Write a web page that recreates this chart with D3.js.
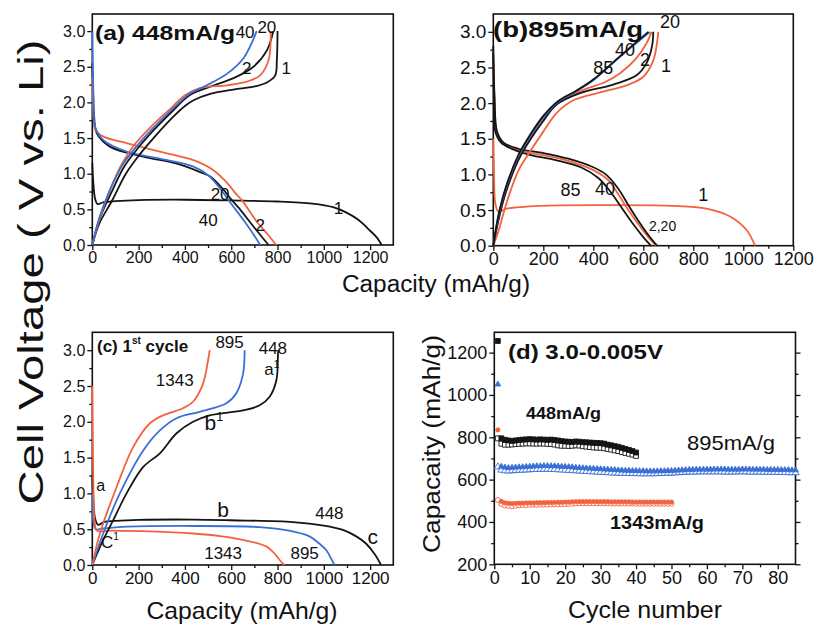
<!DOCTYPE html>
<html lang="en">
<head>
<meta charset="utf-8">
<title>Cell voltage profiles and cycling</title>
<script src="https://d3js.org/d3.v7.min.js"></script>
<style>
  body { margin: 0; background: #fff; }
  text { font-family: "Liberation Sans", Arial, sans-serif; fill: #111; }
  .frame { fill: none; stroke: #111; stroke-width: 1.6; }
  .axis path { display: none; }
  .axis line { stroke: #111; stroke-width: 1.3; }
  .axis text { font-family: "Liberation Sans", Arial, sans-serif; fill: #111; }
  .curve { fill: none; stroke-width: 1.8; }
</style>
</head>
<body>
<script>
// colours
var BLACK = "#151515", RED = "#f2623f", BLUE = "#3a6fd6";

// ---- panel (a) 448 mA/g : [capacity, voltage]
var aDis1  = [[0,1.15],[5,0.85],[12,0.65],[22,0.575],[50,0.6],[100,0.615],[200,0.63],[400,0.635],[600,0.625],[800,0.61],[950,0.58],[1040,0.53],[1100,0.45],[1150,0.35],[1200,0.2],[1230,0.1],[1250,0]];
var aDis2  = [[0,2.35],[3,2.0],[6,1.75],[12,1.62],[48,1.52],[148,1.43],[292,1.31],[437,1.19],[523,1.05],[580,0.88],[620,0.72],[646,0.63],[680,0.47],[710,0.33],[760,0.14],[794,0]];
var aDis20 = [[0,2.55],[3,2.2],[8,1.8],[19,1.57],[76,1.38],[220,1.24],[365,1.14],[460,1.03],[509,0.96],[560,0.8],[600,0.64],[638,0.5],[696,0.26],[761,0]];
var aDis40 = [[0,3.0],[2,2.6],[5,2.1],[12,1.66],[48,1.47],[148,1.31],[292,1.21],[437,1.1],[500,0.98],[550,0.8],[595,0.6],[653,0.35],[700,0.13],[725,0]];
var aCh1   = [[0,0],[30,0.3],[85,0.62],[145,1.0],[200,1.25],[270,1.52],[350,1.8],[400,1.95],[437,2.03],[509,2.12],[610,2.18],[696,2.22],[754,2.28],[790,2.38],[797,2.59],[800,3.0]];
var aCh2   = [[0,0],[30,0.35],[76,0.77],[130,1.15],[180,1.4],[260,1.68],[340,1.92],[400,2.1],[465,2.2],[581,2.24],[667,2.29],[725,2.38],[761,2.59],[771,3.0]];
var aCh20  = [[0,0],[32,0.37],[80,0.72],[138,1.1],[195,1.35],[265,1.61],[350,1.89],[420,2.1],[509,2.22],[610,2.34],[696,2.5],[754,2.73],[782,3.0]];
var aCh40  = [[0,0],[30,0.38],[76,0.77],[130,1.12],[190,1.38],[265,1.65],[350,1.92],[420,2.12],[494,2.24],[581,2.4],[653,2.62],[710,3.0]];

// ---- panel (b) 895 mA/g
var bDis1  = [[0,1.5],[3,1.0],[8,0.6],[20,0.48],[53,0.52],[187,0.56],[453,0.57],[720,0.56],[853,0.52],[947,0.41],[1013,0.22],[1047,0]];
var bDis2  = [[0,2.7],[5,2.1],[15,1.6],[40,1.45],[100,1.36],[200,1.3],[300,1.22],[400,1.1],[450,1.0],[500,0.8],[540,0.57],[580,0.35],[620,0.15],[655,0]];
var bDis20 = [[0,2.6],[5,2.0],[15,1.55],[45,1.42],[110,1.33],[200,1.27],[300,1.19],[400,1.06],[460,0.92],[500,0.72],[540,0.5],[580,0.3],[620,0.12],[650,0]];
var bDis85 = [[0,2.8],[3,2.0],[8,1.6],[30,1.45],[80,1.35],[150,1.27],[250,1.2],[350,1.1],[420,0.95],[470,0.75],[510,0.55],[560,0.3],[600,0.12],[630,0]];
var bCh1   = [[0,0],[20,0.2],[53,0.6],[100,1.05],[147,1.32],[200,1.6],[253,1.86],[320,2.04],[427,2.15],[533,2.25],[600,2.37],[640,2.6],[655,2.85],[660,3.0]];
var bCh2   = [[0,0],[20,0.35],[50,0.75],[100,1.2],[150,1.5],[200,1.75],[253,1.98],[347,2.14],[480,2.26],[573,2.39],[613,2.56],[635,2.8],[640,3.0]];
var bCh20  = [[0,0],[20,0.35],[50,0.75],[100,1.2],[150,1.52],[200,1.78],[260,2.0],[350,2.17],[450,2.3],[507,2.42],[570,2.62],[613,2.84],[633,3.0]];
var bCh40  = [[0,0],[20,0.4],[50,0.8],[100,1.25],[150,1.55],[200,1.8],[260,2.02],[330,2.16],[400,2.32],[507,2.65],[627,3.0]];
var bCh85  = [[0,0],[20,0.42],[50,0.82],[100,1.27],[150,1.57],[200,1.82],[260,2.03],[330,2.17],[400,2.33],[507,2.66],[620,3.0]];

// ---- panel (c) first cycle at three rates
var cDis448  = [[0,1.25],[5,0.9],[12,0.65],[25,0.56],[50,0.6],[100,0.615],[200,0.63],[435,0.635],[600,0.625],[866,0.6],[1000,0.55],[1082,0.49],[1140,0.4],[1182,0.3],[1220,0.15],[1247,0]];
var cDis895  = [[0,1.0],[5,0.6],[15,0.5],[47,0.51],[150,0.535],[435,0.545],[722,0.53],[850,0.48],[938,0.4],[980,0.3],[1010,0.21],[1030,0.1],[1046,0]];
var cDis1343 = [[0,2.5],[3,1.5],[6,0.9],[10,0.6],[20,0.48],[76,0.48],[250,0.47],[435,0.44],[560,0.4],[651,0.35],[751,0.26],[790,0.15],[809,0.07],[830,0]];
var cCh448   = [[0,0],[47,0.35],[91,0.63],[148,1.0],[220,1.37],[292,1.56],[364,1.84],[435,2.0],[507,2.09],[651,2.16],[723,2.23],[766,2.35],[795,2.58],[802,2.95],[803,3.0]];
var cCh895   = [[0,0],[47,0.44],[119,1.0],[220,1.6],[292,1.88],[364,2.05],[464,2.14],[579,2.26],[622,2.4],[651,2.67],[658,3.0]];
var cCh1343  = [[0,0],[33,0.44],[105,1.09],[177,1.65],[249,1.98],[306,2.09],[392,2.19],[435,2.28],[478,2.53],[500,2.86],[507,3.0]];

// ---- panel (d) capacity vs cycle number (mAh/g), discharge = filled, charge = open
var d448Dis  = [1255, 795, 788, 785, 783, 785, 787, 789, 790, 791, 790, 789, 790, 789, 788, 789, 787, 785, 782, 780, 779, 778, 780, 779, 777, 776, 775, 774, 773, 772, 770, 765, 762, 758, 755, 750, 745, 740, 735, 728];
var d448Cha  = [795, 770, 765, 765, 766, 768, 769, 770, 771, 771, 770, 770, 771, 770, 769, 768, 766, 762, 760, 760, 759, 760, 762, 761, 758, 756, 754, 752, 751, 750, 748, 745, 742, 738, 735, 730, 726, 722, 718, 712];
var d895Dis  = [1050, 662, 658, 656, 657, 658, 659, 660, 661, 662, 663, 664, 664, 665, 665, 664, 664, 663, 662, 661,
                660, 659, 657, 656, 655, 654, 653, 652, 651, 650, 649, 648, 647, 646, 645, 644, 643, 643, 642, 642,
                641, 641, 640, 640, 640, 640, 641, 641, 642, 642, 643, 644, 645, 646, 647, 647, 648, 648, 648, 648,
                648, 649, 649, 649, 649, 648, 648, 648, 648, 649, 649, 649, 648, 648, 648, 648, 647, 647, 647, 647,
                646, 646, 646, 645, 645];
var d895Cha  = [660, 645, 642, 641, 642, 643, 644, 645, 646, 647, 648, 648, 649, 649, 649, 648, 648, 647, 646, 645,
                644, 643, 642, 641, 640, 639, 638, 637, 636, 635, 634, 633, 632, 631, 631, 630, 630, 629, 629, 629,
                628, 628, 628, 628, 628, 629, 629, 630, 630, 631, 632, 633, 634, 635, 636, 636, 636, 637, 637, 637,
                637, 637, 637, 637, 636, 636, 636, 636, 637, 637, 637, 636, 636, 636, 636, 635, 635, 635, 635, 634,
                634, 634, 633, 633, 633];
var d1343Dis = [835, 497, 490, 488, 487, 488, 489, 489, 490, 490, 490, 491, 491, 491, 492, 492, 492, 493, 493, 494,
                494, 495, 496, 496, 496, 496, 496, 496, 496, 496, 496, 496, 495, 495, 495, 495, 495, 495, 494, 494,
                494, 494, 494, 494, 494, 494, 494, 494, 494, 494];
var d1343Cha = [504, 485, 478, 476, 474, 477, 479, 480, 480, 481, 481, 481, 482, 482, 482, 483, 483, 483, 484, 484,
                485, 486, 487, 488, 488, 488, 488, 488, 488, 488, 488, 488, 487, 487, 487, 487, 487, 487, 487, 486,
                486, 486, 486, 486, 486, 486, 486, 486, 486, 486];

// tick values
var vTicks = [0, 0.5, 1.0, 1.5, 2.0, 2.5, 3.0];
var vMinor = [0.25, 0.75, 1.25, 1.75, 2.25, 2.75];
var capTicks = [0, 200, 400, 600, 800, 1000, 1200];
var capMinor = [100, 300, 500, 700, 900, 1100];
var cycTicks = [0, 10, 20, 30, 40, 50, 60, 70, 80];
var cycMinor = [5, 15, 25, 35, 45, 55, 65, 75];
var qTicks = [200, 400, 600, 800, 1000, 1200];
var qMinor = [300, 500, 700, 900, 1100];

var svg = d3.select("body").append("svg").attr("width", 816).attr("height", 627);

function panel(o) {
  var x = d3.scaleLinear().domain(o.xd).range(o.xr);
  var y = d3.scaleLinear().domain(o.yd).range(o.yr);
  var g = svg.append("g");
  var ax = g.append("g").attr("class", "axis").attr("transform", "translate(0," + o.yr[0] + ")")
    .call(d3.axisBottom(x).tickValues(o.xt).tickSize(5).tickPadding(2).tickFormat(d3.format("d")));
  ax.selectAll("text").style("font-size", o.fx + "px");
  g.append("g").attr("class", "axis").attr("transform", "translate(0," + o.yr[0] + ")")
    .call(d3.axisBottom(x).tickValues(o.xm).tickSize(3).tickFormat(""));
  var ay = g.append("g").attr("class", "axis").attr("transform", "translate(" + o.xr[0] + ",0)")
    .call(d3.axisLeft(y).tickValues(o.yt).tickSize(5).tickPadding(2).tickFormat(o.yf));
  ay.selectAll("text").style("font-size", o.fy + "px");
  g.append("g").attr("class", "axis").attr("transform", "translate(" + o.xr[0] + ",0)")
    .call(d3.axisLeft(y).tickValues(o.ym).tickSize(3).tickFormat(""));
  if (o.right) {
    g.append("g").attr("class", "axis").attr("transform", "translate(" + o.xr[1] + ",0)")
      .call(d3.axisRight(y).tickValues(o.yt).tickSize(5).tickFormat(""));
    g.append("g").attr("class", "axis").attr("transform", "translate(" + o.xr[1] + ",0)")
      .call(d3.axisRight(y).tickValues(o.ym).tickSize(3).tickFormat(""));
  }
  g.append("rect").attr("class", "frame")
    .attr("x", o.xr[0]).attr("y", o.yr[1])
    .attr("width", o.xr[1] - o.xr[0]).attr("height", o.yr[0] - o.yr[1]);
  return { g: g, x: x, y: y };
}

function curves(p, list) {
  var line = d3.line().x(function (d) { return p.x(d[0]); }).y(function (d) { return p.y(d[1]); })
    .curve(d3.curveCatmullRom.alpha(0.5));
  list.forEach(function (c) {
    p.g.append("path").attr("class", "curve").attr("d", line(c[0])).attr("stroke", c[1]);
  });
}

function label(p, txt, xv, yv, size, weight, sup) {
  var t = p.g.append("text").attr("x", p.x(xv)).attr("y", p.y(yv))
    .attr("text-anchor", "middle").style("font-size", size + "px").style("font-weight", weight || "normal")
    .text(txt);
  if (sup) t.append("tspan").attr("dy", -size * 0.45).style("font-size", (size * 0.6) + "px").text(sup);
  return t;
}

var f1 = d3.format(".1f");

// ---------- (a)
var pa = panel({ xd: [0, 1300], xr: [92.3, 393.3], yd: [0, 3.24], yr: [245, 14],
  xt: capTicks, xm: capMinor, yt: vTicks, ym: vMinor, yf: f1, fx: 16, fy: 16 });
curves(pa, [[aDis1, BLACK], [aDis20, BLACK], [aDis2, RED], [aDis40, BLUE],
  [aCh1, BLACK], [aCh20, BLACK], [aCh2, RED], [aCh40, BLUE]]);
pa.g.append("text").attr("x", 95).attr("y", 40).style("font-size", "20px").style("font-weight", "bold")
  .attr("textLength", 140).attr("lengthAdjust", "spacingAndGlyphs").text("(a) 448mA/g");
label(pa, "40", 660, 2.9, 17);
label(pa, "20", 754, 2.98, 17);
label(pa, "2", 667, 2.4, 17);
label(pa, "1", 838, 2.4, 17);
label(pa, "20", 552, 0.63, 17);
label(pa, "40", 501, 0.27, 17);
label(pa, "2", 725, 0.2, 17);
label(pa, "1", 1063, 0.44, 17);

// ---------- (b)
var pb = panel({ xd: [0, 1200], xr: [493.3, 793.3], yd: [0, 3.25], yr: [245.7, 14],
  xt: capTicks, xm: capMinor, yt: vTicks, ym: vMinor, yf: f1, fx: 18, fy: 19 });
curves(pb, [[bDis1, RED], [bDis20, RED], [bDis2, BLACK], [bDis85, BLACK],
  [bCh1, RED], [bCh20, RED], [bCh2, BLACK], [bCh40, BLUE], [bCh85, BLACK]]);
pb.g.append("text").attr("x", 493).attr("y", 37).style("font-size", "22px").style("font-weight", "bold")
  .attr("textLength", 150).attr("lengthAdjust", "spacingAndGlyphs").text("(b)895mA/g");
label(pb, "20", 707, 3.06, 18);
label(pb, "40", 527, 2.66, 18);
label(pb, "2", 607, 2.52, 18);
label(pb, "1", 691, 2.43, 18);
label(pb, "85", 440, 2.41, 18);
label(pb, "85", 309, 0.7, 18);
label(pb, "40", 447, 0.71, 18);
label(pb, "1", 840, 0.63, 18);
label(pb, "2,20", 677, 0.21, 14);

// ---------- (c)
var pc = panel({ xd: [0, 1300], xr: [92.3, 393.3], yd: [0, 3.25], yr: [565, 332.3],
  xt: capTicks, xm: capMinor, yt: vTicks, ym: vMinor, yf: f1, fx: 17, fy: 16 });
curves(pc, [[cDis448, BLACK], [cDis895, BLUE], [cDis1343, RED],
  [cCh448, BLACK], [cCh895, BLUE], [cCh1343, RED]]);
var tc = pc.g.append("text").attr("x", 97).attr("y", 352).style("font-size", "17px").style("font-weight", "bold").text("(c) 1");
tc.append("tspan").attr("dy", -8).style("font-size", "10px").text("st");
tc.append("tspan").attr("dy", 8).text(" cycle");
label(pc, "1343", 356, 2.5, 17);
label(pc, "895", 593, 3.03, 17);
label(pc, "448", 780, 2.95, 17);
label(pc, "a", 775, 2.65, 17, "normal", "1");
label(pc, "b", 525, 1.88, 21, "normal", "1");
label(pc, "a", 36, 1.03, 16);
label(pc, "b", 565, 0.67, 21);
label(pc, "448", 1024, 0.64, 17);
label(pc, "c", 1211, 0.3, 21);
label(pc, "C", 76, 0.24, 17, "normal", "1");
label(pc, "1343", 565, 0.08, 17);
label(pc, "895", 917, 0.08, 17);

// ---------- (d)
var pd = panel({ xd: [0, 85], xr: [494.3, 795.5], yd: [200, 1296], yr: [564.3, 332.3],
  xt: cycTicks, xm: cycMinor, yt: qTicks, ym: qMinor, yf: d3.format("d"), fx: 18, fy: 18, right: true });

function markers(p, vals, shape, col, filled, size) {
  var sym = d3.symbol().type(shape).size(size);
  p.g.append("g").selectAll("path").data(vals).join("path")
    .attr("d", sym)
    .attr("transform", function (d, i) { return "translate(" + p.x(i + 1) + "," + p.y(d) + ")"; })
    .attr("fill", filled ? col : "#fff").attr("stroke", col).attr("stroke-width", 0.9);
}
markers(pd, d895Cha, d3.symbolTriangle, BLUE, false, 22);
markers(pd, d895Dis, d3.symbolTriangle, BLUE, true, 14);
markers(pd, d448Cha, d3.symbolSquare, BLACK, false, 24);
markers(pd, d448Dis, d3.symbolSquare, BLACK, true, 24);
markers(pd, d1343Cha, d3.symbolCircle, RED, false, 20);
markers(pd, d1343Dis, d3.symbolCircle, RED, true, 14);

pd.g.append("text").attr("x", 508).attr("y", 359).style("font-size", "21px").style("font-weight", "bold")
  .attr("textLength", 155).attr("lengthAdjust", "spacingAndGlyphs").text("(d) 3.0-0.005V");
pd.g.append("text").attr("x", 526).attr("y", 419).style("font-size", "16px").style("font-weight", "bold")
  .attr("textLength", 75).attr("lengthAdjust", "spacingAndGlyphs").text("448mA/g");
pd.g.append("text").attr("x", 687).attr("y", 450).style("font-size", "21px")
  .attr("textLength", 88).attr("lengthAdjust", "spacingAndGlyphs").text("895mA/g");
pd.g.append("text").attr("x", 610).attr("y", 529).style("font-size", "19px").style("font-weight", "bold")
  .attr("textLength", 94).attr("lengthAdjust", "spacingAndGlyphs").text("1343mA/g");

// ---------- shared axis titles
svg.append("text").attr("transform", "translate(43,272) rotate(-90)").attr("text-anchor", "middle")
  .style("font-size", "35px").attr("textLength", 465).attr("lengthAdjust", "spacingAndGlyphs")
  .text("Cell Voltage ( V vs. Li)");
svg.append("text").attr("x", 436).attr("y", 292).attr("text-anchor", "middle").style("font-size", "23px")
  .attr("textLength", 188).attr("lengthAdjust", "spacingAndGlyphs").text("Capacity (mAh/g)");
svg.append("text").attr("x", 242).attr("y", 619).attr("text-anchor", "middle").style("font-size", "24px")
  .attr("textLength", 191).attr("lengthAdjust", "spacingAndGlyphs").text("Capacity (mAh/g)");
svg.append("text").attr("x", 645).attr("y", 618).attr("text-anchor", "middle").style("font-size", "24px")
  .attr("textLength", 154).attr("lengthAdjust", "spacingAndGlyphs").text("Cycle number");
svg.append("text").attr("transform", "translate(440,444) rotate(-90)").attr("text-anchor", "middle")
  .style("font-size", "23px").attr("textLength", 218).attr("lengthAdjust", "spacingAndGlyphs")
  .text("Capacaity (mAh/g)");
</script>
</body>
</html>
